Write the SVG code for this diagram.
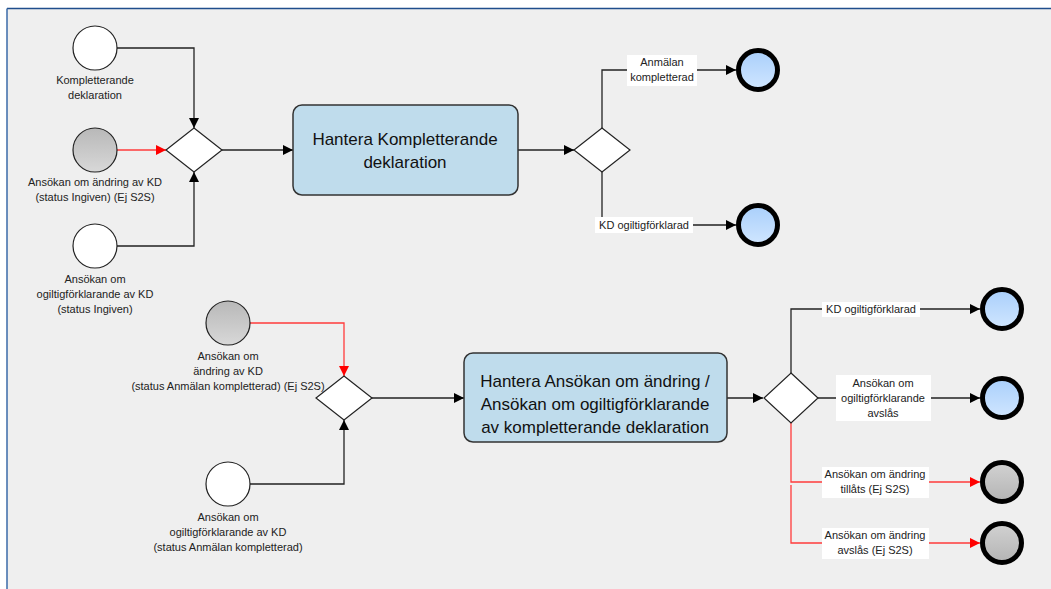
<svg xmlns="http://www.w3.org/2000/svg" width="1051" height="589" viewBox="0 0 1051 589">
<defs>
<style>
.lbl{font-family:"Liberation Sans",Arial,sans-serif;font-size:11px;fill:#222;text-anchor:middle}
.tsk{font-family:"Liberation Sans",Arial,sans-serif;font-size:17px;fill:#111;text-anchor:middle}
.start{stroke:#222;stroke-width:1.2}
.end{stroke:#000;stroke-width:5}
.gw{fill:#fff;stroke:#222;stroke-width:1.2}
.task{fill:#bfdcec;stroke:#333;stroke-width:1.5}
.c{fill:none;stroke:#222;stroke-width:1.3}
.r{fill:none;stroke:#ff3b3b;stroke-width:1.3}
.box{fill:#fff}
</style>
<linearGradient id="gray" x1="0" y1="0" x2="0" y2="1"><stop offset="0" stop-color="#b8b8b8"/><stop offset="1" stop-color="#d8d8d8"/></linearGradient>
<linearGradient id="grayEnd" x1="0" y1="0" x2="0" y2="1"><stop offset="0" stop-color="#d2d2d2"/><stop offset="1" stop-color="#b4b4b4"/></linearGradient>
<linearGradient id="blue" x1="0" y1="0" x2="0" y2="1"><stop offset="0" stop-color="#a9cffb"/><stop offset="1" stop-color="#d0e6ff"/></linearGradient>
<marker id="ab" viewBox="0 0 10 10" refX="10" refY="5" markerWidth="14" markerHeight="10" markerUnits="userSpaceOnUse" orient="auto"><path d="M0,0 L10,5 L0,10 z" fill="#000"/></marker>
<marker id="ar" viewBox="0 0 10 10" refX="10" refY="5" markerWidth="14" markerHeight="10" markerUnits="userSpaceOnUse" orient="auto"><path d="M0,0 L10,5 L0,10 z" fill="#ff0000"/></marker>
</defs>
<rect width="1051" height="589" fill="#fff"/>
<rect x="7" y="8.5" width="1044" height="581" fill="#efefef"/>
<line x1="7" y1="8.5" x2="1051" y2="8.5" stroke="#1f4e8c" stroke-width="1.5"/>
<line x1="7" y1="8.5" x2="7" y2="589" stroke="#3a6aa8" stroke-width="1.5"/>

<g id="connectors">
<polyline class="c" points="117,48 194,48 194,128" marker-end="url(#ab)"/>
<polyline class="r" points="117,150 166,150" marker-end="url(#ar)"/>
<polyline class="c" points="117,246 194,246 194,172" marker-end="url(#ab)"/>
<polyline class="c" points="222,150 293,150" marker-end="url(#ab)"/>
<polyline class="c" points="518,150 574,150" marker-end="url(#ab)"/>
<polyline class="c" points="602,128 602,70 736,70" marker-end="url(#ab)"/>
<polyline class="c" points="602,172 602,225 736,225" marker-end="url(#ab)"/>
<polyline class="r" points="250,323 344,323 344,376" marker-end="url(#ar)"/>
<polyline class="c" points="250,484 344,484 344,420" marker-end="url(#ab)"/>
<polyline class="c" points="371,398 464,398" marker-end="url(#ab)"/>
<polyline class="c" points="727,398 763,398" marker-end="url(#ab)"/>
<polyline class="c" points="791,373 791,309 980,309" marker-end="url(#ab)"/>
<polyline class="c" points="818,398 980,398" marker-end="url(#ab)"/>
<polyline class="r" points="791,423 791,482 980,482" marker-end="url(#ar)"/>
<polyline class="r" points="791,485 791,543 980,543" marker-end="url(#ar)"/>
<rect class="box" x="627" y="55" width="70" height="31"/>
<text class="lbl" x="662" y="66">Anmälan</text>
<text class="lbl" x="662" y="81">kompletterad</text>
<rect class="box" x="595" y="217" width="98" height="16"/>
<text class="lbl" x="644" y="229">KD ogiltigförklarad</text>
<rect class="box" x="822" y="302" width="98" height="15"/>
<text class="lbl" x="871" y="313">KD ogiltigförklarad</text>
<rect class="box" x="836" y="375" width="95" height="46"/>
<text class="lbl" x="883" y="387">Ansökan om</text>
<text class="lbl" x="883" y="402">ogiltigförklarande</text>
<text class="lbl" x="883" y="417">avslås</text>
<rect class="box" x="822" y="467" width="107" height="31"/>
<text class="lbl" x="875" y="478">Ansökan om ändring</text>
<text class="lbl" x="875" y="493">tillåts (Ej S2S)</text>
<rect class="box" x="822" y="528" width="107" height="31"/>
<text class="lbl" x="875" y="539">Ansökan om ändring</text>
<text class="lbl" x="875" y="554">avslås (Ej S2S)</text>
</g>

<g id="start1">
<circle class="start" cx="95" cy="48" r="22" fill="#fff"/>
<text class="lbl" x="95" y="84">Kompletterande</text>
<text class="lbl" x="95" y="99">deklaration</text>
</g>
<g id="start2">
<circle class="start" cx="95" cy="150" r="22" fill="url(#gray)"/>
<text class="lbl" x="95" y="186">Ansökan om ändring av KD</text>
<text class="lbl" x="95" y="201">(status Ingiven) (Ej S2S)</text>
</g>
<g id="start3">
<circle class="start" cx="95" cy="246" r="22" fill="#fff"/>
<text class="lbl" x="95" y="283">Ansökan om</text>
<text class="lbl" x="95" y="298">ogiltigförklarande av KD</text>
<text class="lbl" x="95" y="313">(status Ingiven)</text>
</g>
<g id="gw1"><polygon class="gw" points="194,128 222,150 194,172 166,150"/></g>
<g id="task1">
<rect class="task" x="293" y="105" width="225" height="90" rx="9"/>
<text class="tsk" x="405" y="145">Hantera Kompletterande</text>
<text class="tsk" x="405" y="168">deklaration</text>
</g>
<g id="gw2"><polygon class="gw" points="602,128 630,150 602,172 574,150"/></g>
<g id="end1"><circle class="end" cx="758" cy="70" r="19.5" fill="url(#blue)"/></g>
<g id="end2"><circle class="end" cx="758" cy="225" r="19.5" fill="url(#blue)"/></g>

<g id="start4">
<circle class="start" cx="228" cy="323" r="22" fill="url(#gray)"/>
<text class="lbl" x="228" y="360">Ansökan om</text>
<text class="lbl" x="228" y="375">ändring av KD</text>
<text class="lbl" x="228" y="390">(status Anmälan kompletterad) (Ej S2S)</text>
</g>
<g id="start5">
<circle class="start" cx="228" cy="484" r="22" fill="#fff"/>
<text class="lbl" x="228" y="521">Ansökan om</text>
<text class="lbl" x="228" y="536">ogiltigförklarande av KD</text>
<text class="lbl" x="228" y="551">(status Anmälan kompletterad)</text>
</g>
<g id="gw3"><polygon class="gw" points="344,376 372,398 344,420 316,398"/></g>
<g id="task2">
<rect class="task" x="464" y="353" width="263" height="89" rx="9"/>
<text class="tsk" x="595" y="387">Hantera Ansökan om ändring /</text>
<text class="tsk" x="595" y="410">Ansökan om ogiltigförklarande</text>
<text class="tsk" x="595" y="433">av kompletterande deklaration</text>
</g>
<g id="gw4"><polygon class="gw" points="791,373 818,398 791,423 764,398"/></g>
<g id="end3"><circle class="end" cx="1002" cy="309" r="19.5" fill="url(#blue)"/></g>
<g id="end4"><circle class="end" cx="1002" cy="398" r="19.5" fill="url(#blue)"/></g>
<g id="end5"><circle class="end" cx="1002" cy="482" r="19.5" fill="url(#grayEnd)"/></g>
<g id="end6"><circle class="end" cx="1002" cy="543" r="19.5" fill="url(#grayEnd)"/></g>
</svg>
